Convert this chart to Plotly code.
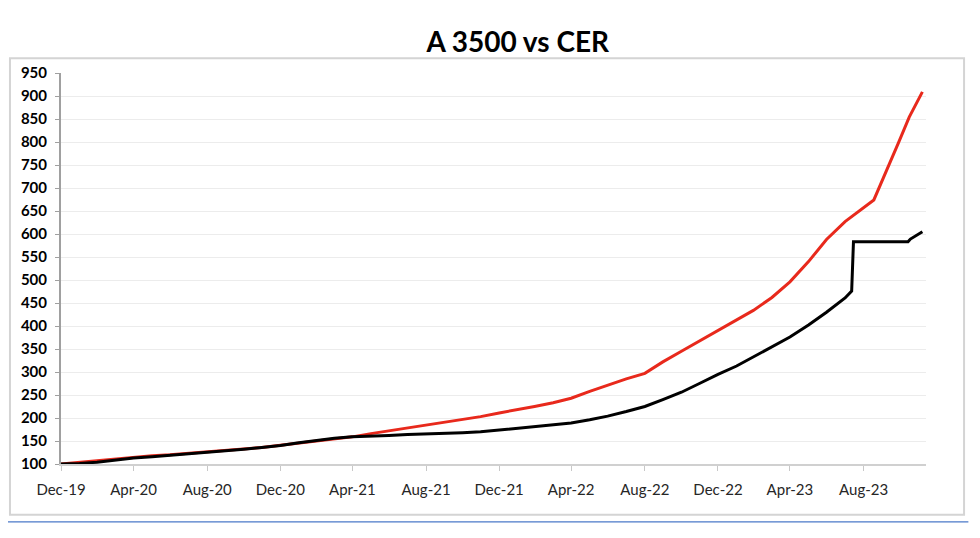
import plotly.graph_objects as go

# Fechas (fin de mes, base 100 = Dec-19)
fechas_cer = [
    "2019-12-31", "2020-01-31", "2020-02-29", "2020-03-31", "2020-04-30", "2020-05-31",
    "2020-06-30", "2020-07-31", "2020-08-31", "2020-09-30", "2020-10-31", "2020-11-30",
    "2020-12-31", "2021-01-31", "2021-02-28", "2021-03-31", "2021-04-30", "2021-05-31",
    "2021-06-30", "2021-07-31", "2021-08-31", "2021-09-30", "2021-10-31", "2021-11-30",
    "2021-12-31", "2022-01-31", "2022-02-28", "2022-03-31", "2022-04-30", "2022-05-31",
    "2022-06-30", "2022-07-31", "2022-08-31", "2022-09-30", "2022-10-31", "2022-11-30",
    "2022-12-31", "2023-01-31", "2023-02-28", "2023-03-31", "2023-04-30", "2023-05-31",
    "2023-06-30", "2023-07-31", "2023-08-31", "2023-09-17", "2023-10-28", "2023-11-15",
    "2023-12-07",
]
cer = [
    100, 104, 107, 111, 115, 118,
    120, 123, 126, 129, 132, 136,
    141, 146, 150, 155, 159, 166,
    172, 179, 185, 190, 196, 203,
    211, 218, 225, 233, 243, 258,
    272, 285, 297, 322, 345, 367,
    390, 412, 434, 462, 496, 540,
    588, 627, 658, 674, 798, 854,
    909,
]

fechas_a3500 = [
    "2019-12-31", "2020-01-31", "2020-02-29", "2020-03-31", "2020-04-30", "2020-05-31",
    "2020-06-30", "2020-07-31", "2020-08-31", "2020-09-30", "2020-10-31", "2020-11-30",
    "2020-12-31", "2021-01-31", "2021-02-28", "2021-03-31", "2021-04-30", "2021-05-31",
    "2021-06-30", "2021-07-31", "2021-08-31", "2021-09-30", "2021-10-31", "2021-11-30",
    "2021-12-31", "2022-01-31", "2022-02-28", "2022-03-31", "2022-04-30", "2022-05-31",
    "2022-06-30", "2022-07-31", "2022-08-31", "2022-09-30", "2022-10-31", "2022-11-30",
    "2022-12-31", "2023-01-31", "2023-02-28", "2023-03-31", "2023-04-30", "2023-05-31",
    "2023-06-30", "2023-07-31", "2023-08-11", "2023-08-14", "2023-11-13", "2023-11-17",
    "2023-12-07",
]
a3500 = [
    100, 101, 104, 109, 113, 116,
    119, 123, 126, 129, 132, 136,
    140, 146, 151, 156, 159, 160,
    162, 164, 165, 166, 168, 170,
    174, 177, 180, 184, 189, 196,
    204, 214, 225, 240, 256, 275,
    295, 313, 333, 354, 376, 402,
    430, 461, 476, 583, 583, 589,
    605,
]

ticks_x = ["2019-12-31", "2020-04-30", "2020-08-31", "2020-12-31", "2021-04-30",
           "2021-08-31", "2021-12-31", "2022-04-30", "2022-08-31", "2022-12-31",
           "2023-04-30", "2023-08-31"]
etiquetas_x = ["Dec-19", "Apr-20", "Aug-20", "Dec-20", "Apr-21", "Aug-21",
               "Dec-21", "Apr-22", "Aug-22", "Dec-22", "Apr-23", "Aug-23"]

fig = go.Figure()
fig.add_trace(go.Scatter(x=fechas_cer, y=cer, mode="lines", name="CER",
                         line=dict(color="#e8291c", width=3)))
fig.add_trace(go.Scatter(x=fechas_a3500, y=a3500, mode="lines", name="A 3500",
                         line=dict(color="#000000", width=3)))

# el body de la página tiene 8px de margen: se compensa acá
fig.update_layout(
    width=972, height=530,
    margin=dict(l=53, r=54, t=65, b=74),
    paper_bgcolor="white", plot_bgcolor="white",
    showlegend=False,
    font=dict(family="Lato, Open Sans, sans-serif"),
    title=dict(text="<b>A 3500 vs CER</b>", x=0.528, xref="paper", xanchor="center",
               y=0.936, yref="container", yanchor="middle",
               font=dict(size=28, color="#000000", family="Lato, sans-serif")),
)

fig.update_xaxes(
    type="date", range=["2019-12-31", "2023-12-13"],
    tickvals=ticks_x, ticktext=etiquetas_x,
    showgrid=False, showline=True, linecolor="#d0d0d0", linewidth=1.5,
    ticks="outside", ticklen=5, tickcolor="#c8c8c8",
    tickfont=dict(size=15, color="#262626"),
    ticklabelstandoff=6,
    automargin=False,
)
fig.update_yaxes(
    range=[100, 950], dtick=50, tick0=100,
    showgrid=True, gridcolor="#ececec", gridwidth=1,
    showline=True, linecolor="#a0a0a0", linewidth=2,
    ticks="outside", ticklen=4, tickcolor="#a0a0a0",
    tickfont=dict(size=15, color="#000000"),
    tickprefix="<b>", ticksuffix="</b>",
    ticklabelstandoff=5,
    zeroline=False, automargin=False,
)

# Marco del gráfico y línea azul inferior
fig.add_shape(type="rect", xref="paper", yref="paper",
              x0=-0.059, x1=1.044, y0=-0.130, y1=1.038,
              line=dict(color="#d4d4d4", width=2), layer="below")
fig.add_shape(type="line", xref="paper", yref="paper",
              x0=-0.065, x1=1.049, y0=-0.148, y1=-0.148,
              line=dict(color="#4a78c8", width=1.2))

fig.write_html("out.html")
